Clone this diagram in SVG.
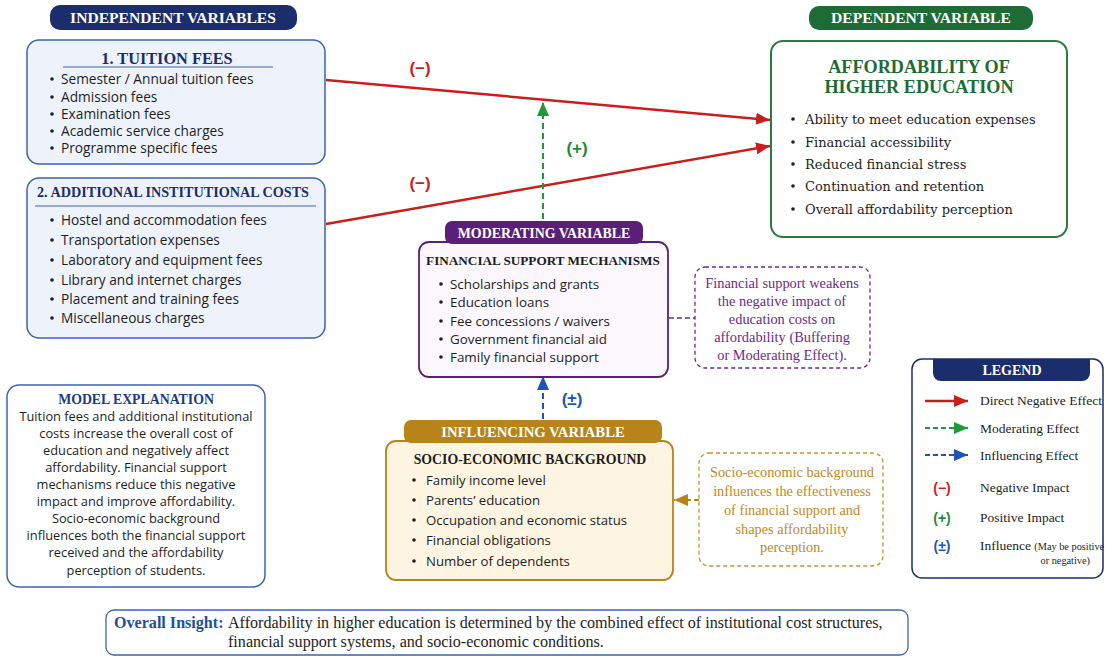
<svg xmlns="http://www.w3.org/2000/svg" width="1109" height="657" viewBox="0 0 1109 657">
<defs>
<style>
.hdr{font-family:"Liberation Serif",serif;font-weight:bold;fill:#fff;text-anchor:middle}
.ttl{font-family:"Liberation Serif",serif;font-weight:bold}
.sans{font-family:"Open Sans","Liberation Sans",sans-serif;fill:#1e1e1e}
.serif{font-family:"Liberation Serif",serif;fill:#1e1e1e}
.dserif{font-family:"DejaVu Serif",serif;fill:#1e1e1e}
.dot{fill:#1e1e1e}
</style>
<marker id="ar" viewBox="0 0 14 12" refX="14" refY="6" markerWidth="14" markerHeight="12" markerUnits="userSpaceOnUse" orient="auto"><path d="M0,0 L14,6 L0,12 Z" fill="#cc1d1d"/></marker>
<marker id="ag" viewBox="0 0 14 12" refX="14" refY="6" markerWidth="14" markerHeight="12" markerUnits="userSpaceOnUse" orient="auto"><path d="M0,0 L14,6 L0,12 Z" fill="#1f9a36"/></marker>
<marker id="ab" viewBox="0 0 14 12" refX="14" refY="6" markerWidth="14" markerHeight="12" markerUnits="userSpaceOnUse" orient="auto"><path d="M0,0 L14,6 L0,12 Z" fill="#1d56b8"/></marker>
<marker id="ay" viewBox="0 0 14 12" refX="14" refY="6" markerWidth="14" markerHeight="12" markerUnits="userSpaceOnUse" orient="auto"><path d="M0,0 L14,6 L0,12 Z" fill="#b8841a"/></marker>
</defs>
<rect width="1109" height="657" fill="#ffffff"/>

<g id="connectors">
<line x1="326" y1="80" x2="770" y2="120" stroke="#cc1d1d" stroke-width="2.5" marker-end="url(#ar)"/>
<line x1="326" y1="224" x2="770" y2="146" stroke="#cc1d1d" stroke-width="2.5" marker-end="url(#ar)"/>
<text x="420" y="74" font-family="Liberation Sans,sans-serif" font-size="17" font-weight="bold" fill="#cc1d1d" text-anchor="middle">(−)</text>
<text x="420" y="189" font-family="Liberation Sans,sans-serif" font-size="17" font-weight="bold" fill="#cc1d1d" text-anchor="middle">(−)</text>
<line x1="543" y1="219" x2="543" y2="102" stroke="#1f9a36" stroke-width="2" stroke-dasharray="6,4" marker-end="url(#ag)"/>
<text x="577" y="154" font-family="Liberation Sans,sans-serif" font-size="17" font-weight="bold" fill="#1f8a36" text-anchor="middle">(+)</text>
<line x1="543" y1="419" x2="543" y2="376" stroke="#1d56b8" stroke-width="2" stroke-dasharray="6,4" marker-end="url(#ab)"/>
<text x="572" y="405" font-family="Liberation Sans,sans-serif" font-size="17" font-weight="bold" fill="#1d56b8" text-anchor="middle">(±)</text>
<line x1="669" y1="318" x2="695" y2="318" stroke="#6b2d8a" stroke-width="1.5" stroke-dasharray="5,3"/>
<line x1="699" y1="500" x2="674" y2="500" stroke="#b8841a" stroke-width="2" stroke-dasharray="5,3" marker-end="url(#ay)"/>
</g>

<g id="independent-header">
<rect x="50" y="5" width="247" height="25" rx="10" fill="#1b2e6b"/>
<text class="hdr" x="173" y="23" font-size="15.6">INDEPENDENT VARIABLES</text>
</g>

<g id="tuition-fees">
<rect x="27" y="40" width="298" height="124" rx="12" fill="#eef3fb" stroke="#3e63b0" stroke-width="1.5"/>
<text class="ttl" x="167" y="64" font-size="16.3" fill="#1b2e6b" text-anchor="middle">1. TUITION FEES</text>
<line x1="63" y1="67" x2="273" y2="67" stroke="#3e63b0" stroke-width="1.2"/>
<g class="sans" font-size="13.7">
<circle class="dot" cx="52" cy="79" r="1.8"/><text x="61" y="84">Semester / Annual tuition fees</text>
<circle class="dot" cx="52" cy="97" r="1.8"/><text x="61" y="102">Admission fees</text>
<circle class="dot" cx="52" cy="114" r="1.8"/><text x="61" y="119">Examination fees</text>
<circle class="dot" cx="52" cy="131" r="1.8"/><text x="61" y="136">Academic service charges</text>
<circle class="dot" cx="52" cy="148" r="1.8"/><text x="61" y="153">Programme specific fees</text>
</g>
</g>

<g id="additional-costs">
<rect x="27" y="178" width="298" height="160" rx="12" fill="#eef3fb" stroke="#3e63b0" stroke-width="1.5"/>
<text class="ttl" x="37" y="197" font-size="14.2" fill="#1b2e6b">2. ADDITIONAL INSTITUTIONAL COSTS</text>
<line x1="35" y1="206" x2="316" y2="206" stroke="#3e63b0" stroke-width="1.2"/>
<g class="sans" font-size="13.7">
<circle class="dot" cx="52" cy="220" r="1.8"/><text x="61" y="225">Hostel and accommodation fees</text>
<circle class="dot" cx="52" cy="240" r="1.8"/><text x="61" y="245">Transportation expenses</text>
<circle class="dot" cx="52" cy="260" r="1.8"/><text x="61" y="265">Laboratory and equipment fees</text>
<circle class="dot" cx="52" cy="280" r="1.8"/><text x="61" y="285">Library and internet charges</text>
<circle class="dot" cx="52" cy="299" r="1.8"/><text x="61" y="304">Placement and training fees</text>
<circle class="dot" cx="52" cy="318" r="1.8"/><text x="61" y="323">Miscellaneous charges</text>
</g>
</g>

<g id="dependent-header">
<rect x="809" y="6" width="224" height="24" rx="10" fill="#1e6b35"/>
<text class="hdr" x="921" y="23" font-size="15.6">DEPENDENT VARIABLE</text>
</g>

<g id="affordability">
<rect x="771" y="41" width="296" height="196" rx="12" fill="#ffffff" stroke="#2e7a3e" stroke-width="2"/>
<text class="ttl" x="919" y="73" font-size="18.2" fill="#1e6b35" text-anchor="middle">AFFORDABILITY OF</text>
<text class="ttl" x="919" y="93" font-size="18.2" fill="#1e6b35" text-anchor="middle">HIGHER EDUCATION</text>
<g class="dserif" font-size="13">
<circle class="dot" cx="793" cy="119" r="1.8"/><text x="805" y="124">Ability to meet education expenses</text>
<circle class="dot" cx="793" cy="142" r="1.8"/><text x="805" y="147">Financial accessibility</text>
<circle class="dot" cx="793" cy="164" r="1.8"/><text x="805" y="169">Reduced financial stress</text>
<circle class="dot" cx="793" cy="186" r="1.8"/><text x="805" y="191">Continuation and retention</text>
<circle class="dot" cx="793" cy="209" r="1.8"/><text x="805" y="214">Overall affordability perception</text>
</g>
</g>

<g id="moderating">
<rect x="419" y="242" width="249" height="135" rx="10" fill="#fbf7fd" stroke="#5a2078" stroke-width="1.8"/>
<rect x="445" y="221" width="198" height="23" rx="7" fill="#5a2078"/>
<text class="hdr" x="544" y="238" font-size="13.9">MODERATING VARIABLE</text>
<text class="ttl" x="543" y="265" font-size="13.2" fill="#1e1e1e" text-anchor="middle">FINANCIAL SUPPORT MECHANISMS</text>
<g class="sans" font-size="13.4">
<circle class="dot" cx="441" cy="284" r="1.8"/><text x="450" y="289">Scholarships and grants</text>
<circle class="dot" cx="441" cy="302" r="1.8"/><text x="450" y="307">Education loans</text>
<circle class="dot" cx="441" cy="321" r="1.8"/><text x="450" y="326">Fee concessions / waivers</text>
<circle class="dot" cx="441" cy="339" r="1.8"/><text x="450" y="344">Government financial aid</text>
<circle class="dot" cx="441" cy="357" r="1.8"/><text x="450" y="362">Family financial support</text>
</g>
</g>

<g id="moderating-note">
<rect x="695" y="267" width="175" height="101" rx="10" fill="#ffffff" stroke="#6b2d8a" stroke-width="1.3" stroke-dasharray="4,3"/>
<g font-family="Liberation Serif,serif" font-size="14.4" fill="#6b2d8a" text-anchor="middle">
<text x="782" y="288">Financial support weakens</text>
<text x="782" y="306">the negative impact of</text>
<text x="782" y="324">education costs on</text>
<text x="782" y="342">affordability (Buffering</text>
<text x="782" y="360">or Moderating Effect).</text>
</g>
</g>

<g id="influencing">
<rect x="386" y="441" width="287" height="139" rx="10" fill="#fdf5e1" stroke="#b8841a" stroke-width="1.8"/>
<rect x="404" y="420" width="258" height="23" rx="7" fill="#b8841a"/>
<text class="hdr" x="533" y="437" font-size="14.7">INFLUENCING VARIABLE</text>
<text class="ttl" x="530" y="464" font-size="13.8" fill="#1e1e1e" text-anchor="middle">SOCIO-ECONOMIC BACKGROUND</text>
<g class="sans" font-size="13.2">
<circle class="dot" cx="414" cy="480" r="1.8"/><text x="426" y="485">Family income level</text>
<circle class="dot" cx="414" cy="500" r="1.8"/><text x="426" y="505">Parents’ education</text>
<circle class="dot" cx="414" cy="520" r="1.8"/><text x="426" y="525">Occupation and economic status</text>
<circle class="dot" cx="414" cy="540" r="1.8"/><text x="426" y="545">Financial obligations</text>
<circle class="dot" cx="414" cy="561" r="1.8"/><text x="426" y="566">Number of dependents</text>
</g>
</g>

<g id="influencing-note">
<rect x="699" y="453" width="184" height="113" rx="10" fill="#ffffff" stroke="#c8952a" stroke-width="1.3" stroke-dasharray="4,3"/>
<g font-family="Liberation Serif,serif" font-size="14.3" fill="#c08a1e" text-anchor="middle">
<text x="792" y="477">Socio-economic background</text>
<text x="792" y="496">influences the effectiveness</text>
<text x="792" y="515">of financial support and</text>
<text x="792" y="534">shapes affordability</text>
<text x="792" y="552">perception.</text>
</g>
</g>

<g id="model-explanation">
<rect x="7" y="385" width="258" height="202" rx="12" fill="#ffffff" stroke="#3e63b0" stroke-width="1.5"/>
<text class="ttl" x="136" y="404" font-size="13.8" fill="#1b3a8a" text-anchor="middle">MODEL EXPLANATION</text>
<g class="sans" font-size="12.8" text-anchor="middle">
<text x="136" y="421">Tuition fees and additional institutional</text>
<text x="136" y="438">costs increase the overall cost of</text>
<text x="136" y="455">education and negatively affect</text>
<text x="136" y="472">affordability. Financial support</text>
<text x="136" y="489">mechanisms reduce this negative</text>
<text x="136" y="506">impact and improve affordability.</text>
<text x="136" y="523">Socio-economic background</text>
<text x="136" y="540">influences both the financial support</text>
<text x="136" y="557">received and the affordability</text>
<text x="136" y="575">perception of students.</text>
</g>
</g>

<g id="legend">
<rect x="912" y="359" width="191" height="219" rx="10" fill="#ffffff" stroke="#1b2e6b" stroke-width="1.5"/>
<path d="M933,359 H1090 V373 a8,8 0 0 1 -8,8 H941 a8,8 0 0 1 -8,-8 Z" fill="#1b2e6b"/>
<text class="hdr" x="1012" y="375" font-size="14">LEGEND</text>
<line x1="925" y1="401" x2="968" y2="401" stroke="#cc1d1d" stroke-width="2.5" marker-end="url(#ar)"/>
<line x1="925" y1="428" x2="968" y2="428" stroke="#1f9a36" stroke-width="2" stroke-dasharray="5,3" marker-end="url(#ag)"/>
<line x1="925" y1="455" x2="968" y2="455" stroke="#1d56b8" stroke-width="2" stroke-dasharray="5,3" marker-end="url(#ab)"/>
<g font-family="Liberation Sans,sans-serif" font-size="14" font-weight="bold" text-anchor="middle">
<text x="942" y="493" fill="#cc1d1d">(−)</text>
<text x="942" y="523" fill="#1f8a36">(+)</text>
<text x="942" y="551" fill="#1d56b8">(±)</text>
</g>
<g class="serif" font-size="13.5">
<text x="980" y="405">Direct Negative Effect</text>
<text x="980" y="433">Moderating Effect</text>
<text x="980" y="460">Influencing Effect</text>
<text x="980" y="492">Negative Impact</text>
<text x="980" y="522">Positive Impact</text>
<text x="980" y="550">Influence <tspan font-size="10.3">(May be positive</tspan></text>
<text x="1090" y="564" font-size="10.3" text-anchor="end">or negative)</text>
</g>
</g>

<g id="overall-insight">
<rect x="106" y="610" width="802" height="45" rx="8" fill="#ffffff" stroke="#3e63b0" stroke-width="1.3"/>
<g font-family="Liberation Serif,serif" font-size="16.1">
<text x="114" y="628" font-weight="bold" fill="#1d4f9e">Overall Insight:</text>
<text x="228" y="628" fill="#1e1e1e">Affordability in higher education is determined by the combined effect of institutional cost structures,</text>
<text x="228" y="647" fill="#1e1e1e">financial support systems, and socio-economic conditions.</text>
</g>
</g>
</svg>
